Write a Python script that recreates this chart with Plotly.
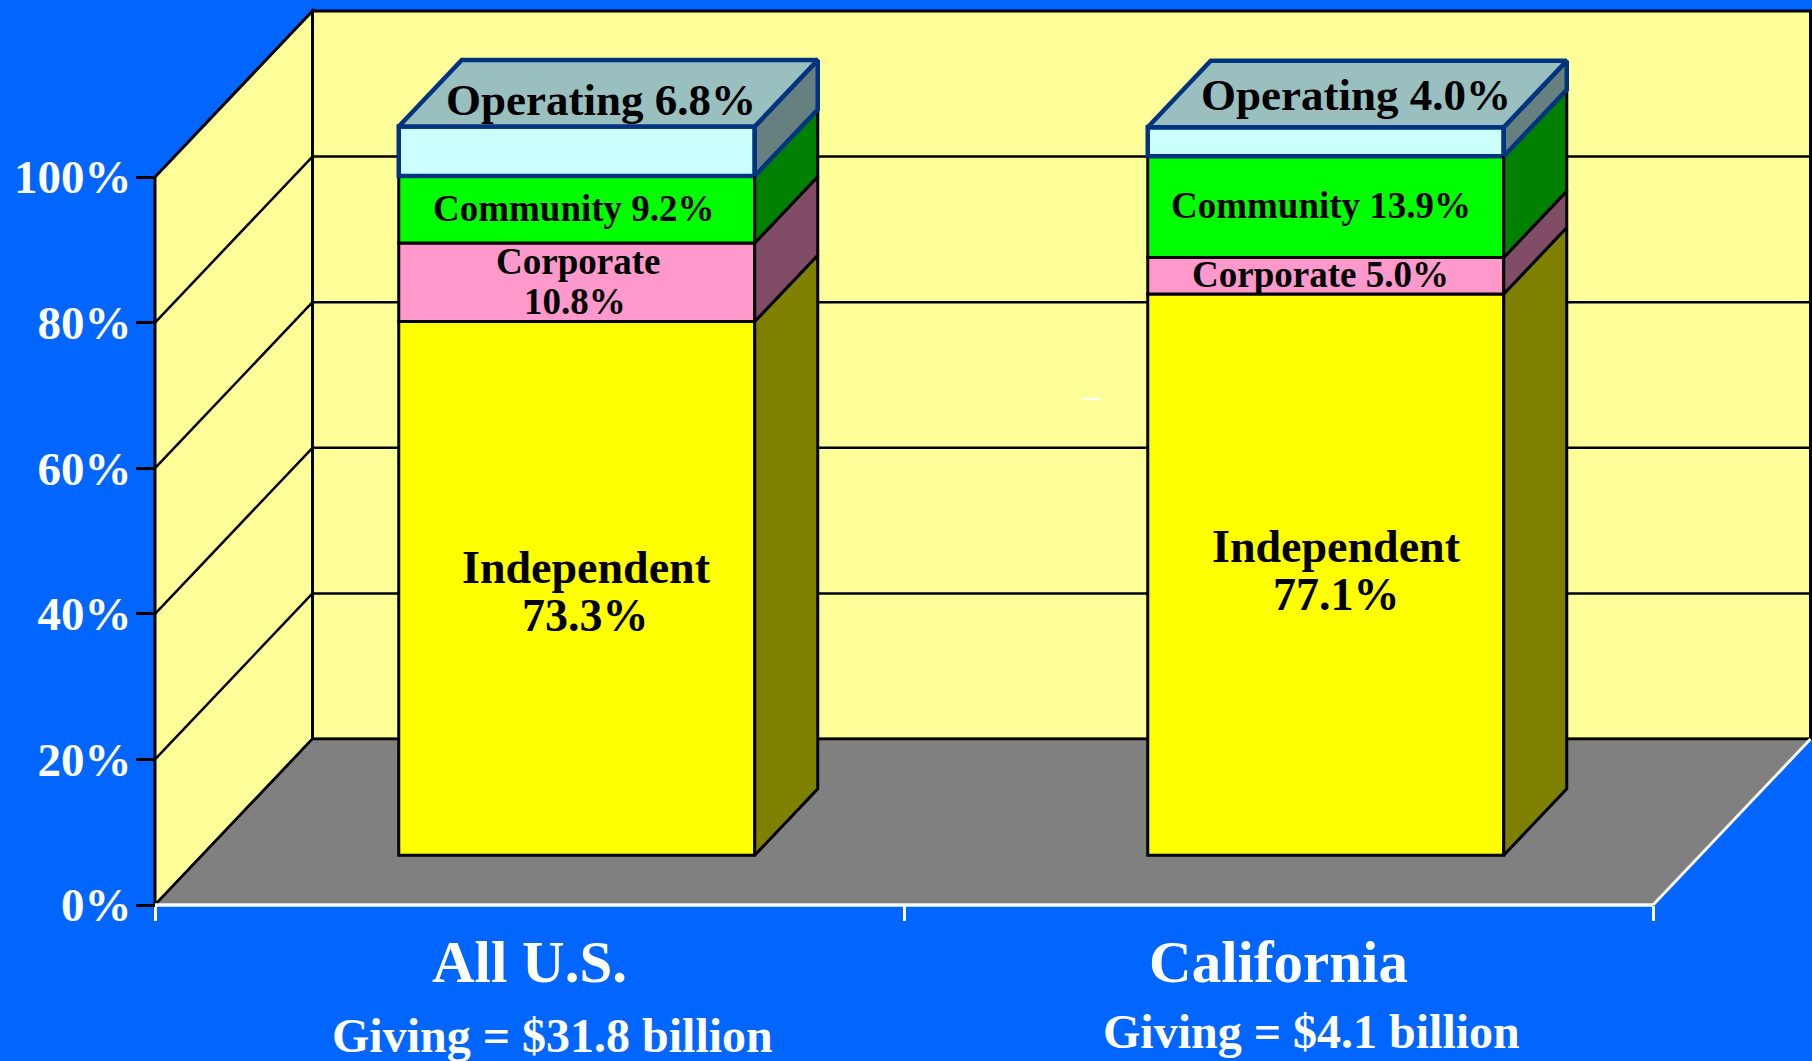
import plotly.graph_objects as go

# ---------- data ----------
categories = ["All U.S.", "California"]
giving_labels = ["Giving = $31.8 billion", "Giving = $4.1 billion"]
independent = [73.3, 77.1]
corporate = [10.8, 5.0]
community = [9.2, 13.9]
operating = [6.8, 4.0]
y_ticks = [0, 20, 40, 60, 80, 100]
y_tick_labels = ["0%", "20%", "40%", "60%", "80%", "100%"]
layer_names = ["Independent", "Corporate", "Community", "Operating"]
layer_values = [independent, corporate, community, operating]

# ---------- style ----------
W, H = 1812, 1061
BG = "#0066FF"; WALL = "#FFFF99"; FLOOR = "#808080"; NAVY = "#003380"
FRONT = ["#FFFF00", "#FF99CC", "#00FF00", "#CCFFFF"]
SIDE = ["#808000", "#804C66", "#008000", "#668080"]
TOP = "#99BFBF"
SERIF = "Liberation Serif"

# axis mapping: pixel -> data is only used for setting the ranges
X0_PX, X_UNIT = 155, 749
Y0_PX, Y_UNIT = 905, 7.28
DX, DY = 157.5 / X_UNIT, 166 / Y_UNIT   # oblique depth vector of the chart box
BAR_D0, BAR_D1 = 0.30, 0.70             # bar's depth extent within the box
BAR_W = 356 / X_UNIT
centers = [0.5, 1.5]
off_x, off_y = BAR_D0 * DX, BAR_D0 * DY
dep_x, dep_y = (BAR_D1 - BAR_D0) * DX, (BAR_D1 - BAR_D0) * DY


def poly_path(pts):
    return "M " + " L ".join(f"{x},{y}" for x, y in pts) + " Z"


shapes = []
def add_poly(pts, fill, color, width):
    shapes.append(dict(type="path", path=poly_path(pts), xref="x", yref="y", layer="below",
                       fillcolor=fill, line=dict(color=color, width=width)))
def add_line(a, b, color, width):
    shapes.append(dict(type="line", x0=a[0], y0=a[1], x1=b[0], y1=b[1], xref="x", yref="y",
                       layer="below", line=dict(color=color, width=width)))

YMAX = y_ticks[-1]
XMAX = len(categories)
# back wall, side wall, floor
add_poly([(DX, DY), (XMAX + DX, DY), (XMAX + DX, YMAX + DY), (DX, YMAX + DY)], WALL, "black", 3)
add_poly([(0, 0), (DX, DY), (DX, YMAX + DY), (0, YMAX)], WALL, "black", 3)
for v in y_ticks[1:-1]:
    add_line((0, v), (DX, v + DY), "black", 2.5)
    add_line((DX, v + DY), (XMAX + DX, v + DY), "black", 2.5)
add_poly([(0, 0), (XMAX, 0), (XMAX + DX, DY), (DX, DY)], FLOOR, "black", 2.5)
add_line((0, 0), (XMAX, 0), "white", 3.5)
add_line((XMAX, 0), (XMAX + DX, DY), "white", 3)
# stray dash on the back wall in the reference
shapes.append(dict(type="line", xref="paper", yref="paper", x0=1082 / W, x1=1100 / W,
                   y0=1 - 399 / H, y1=1 - 399 / H, line=dict(color="white", width=2)))

fig = go.Figure()
cum = [0.0 for _ in categories]
for i, (name, vals) in enumerate(zip(layer_names, layer_values)):
    edge = NAVY if name == "Operating" else "black"
    lw = 4.5 if name == "Operating" else 3
    fig.add_trace(go.Bar(
        x=[c + off_x for c in centers], y=vals, base=[b + off_y for b in cum],
        width=BAR_W, name=name, showlegend=False, hoverinfo="name+y",
        marker=dict(color=FRONT[i], line=dict(color=edge, width=lw))))
    sx, sy = [], []
    for k, c in enumerate(centers):
        r = c + off_x + BAR_W / 2
        lo = cum[k] + off_y
        hi = lo + vals[k]
        sx += [r, r + dep_x, r + dep_x, r, r, None]
        sy += [lo, lo + dep_y, hi + dep_y, hi, lo, None]
    fig.add_trace(go.Scatter(x=sx, y=sy, mode="lines", fill="toself", fillcolor=SIDE[i],
                             line=dict(color=edge, width=lw), showlegend=False, hoverinfo="skip"))
    cum = [a + b for a, b in zip(cum, vals)]

# top faces
tx, ty = [], []
for k, c in enumerate(centers):
    l, r = c + off_x - BAR_W / 2, c + off_x + BAR_W / 2
    t = cum[k] + off_y
    tx += [l, r, r + dep_x, l + dep_x, l, None]
    ty += [t, t, t + dep_y, t + dep_y, t, None]
fig.add_trace(go.Scatter(x=tx, y=ty, mode="lines", fill="toself", fillcolor=TOP,
                         line=dict(color=NAVY, width=4.5), showlegend=False, hoverinfo="skip"))


def note(text, px, py, size, color="black"):
    fig.add_annotation(text=text, x=px / W, y=1 - py / H, xref="paper", yref="paper",
                       showarrow=False, align="center", xanchor="center", yanchor="middle",
                       font=dict(family=SERIF, size=size, color=color, weight="bold"))


OP = 45
SM = 37
IND = 46
note(f"Operating {operating[0]}%", 601, 100, OP)
note(f"Community {community[0]}%", 574, 209, SM)
note("Corporate", 578, 261, SM)
note(f"{corporate[0]}%", 575, 301, SM)
note("Independent", 586, 567, IND)
note(f"{independent[0]}%", 585, 615, IND)
note(f"Operating {operating[1]:.1f}%", 1356, 95, OP)
note(f"Community {community[1]}%", 1321, 206, SM)
note(f"Corporate {corporate[1]:.1f}%", 1320, 274, SM)
note("Independent", 1336, 546, IND)
note(f"{independent[1]}%", 1336, 594, IND)
note(giving_labels[0], 552, 1035, 48, "white")
note(giving_labels[1], 1311, 1031, 48, "white")

fig.update_layout(
    width=W, height=H, autosize=False, margin=dict(l=0, r=0, t=0, b=0, pad=0),
    paper_bgcolor=BG, plot_bgcolor=BG, barmode="overlay", shapes=shapes, showlegend=False,
    xaxis=dict(range=[-X0_PX / X_UNIT, (W - X0_PX) / X_UNIT], domain=[0, 1],
               anchor="free", position=(H - Y0_PX) / H, showgrid=False, zeroline=False,
               showline=False, tickmode="array", tickvals=centers, ticktext=categories,
               ticks="", ticklabelstandoff=17,
               tickfont=dict(family=SERIF, size=59, color="white", weight="bold"),
               minor=dict(tickmode="array", tickvals=[0, 1, 2], ticks="outside", ticklen=15,
                          tickwidth=2.5, tickcolor="white", showgrid=False)),
    yaxis=dict(range=[(Y0_PX - H) / Y_UNIT, Y0_PX / Y_UNIT], domain=[0, 1],
               anchor="free", position=X0_PX / W, showgrid=False, zeroline=False,
               showline=False, tickmode="array", tickvals=y_ticks, ticktext=y_tick_labels,
               ticks="outside", ticklen=19, tickwidth=3, tickcolor="black", ticklabelstandoff=-5,
               tickfont=dict(family=SERIF, size=47, color="white", weight="bold")),
)
fig.write_html("out.html", config={"displayModeBar": False},
               post_script="document.body.style.margin='0';document.body.style.background='%s';" % BG)
